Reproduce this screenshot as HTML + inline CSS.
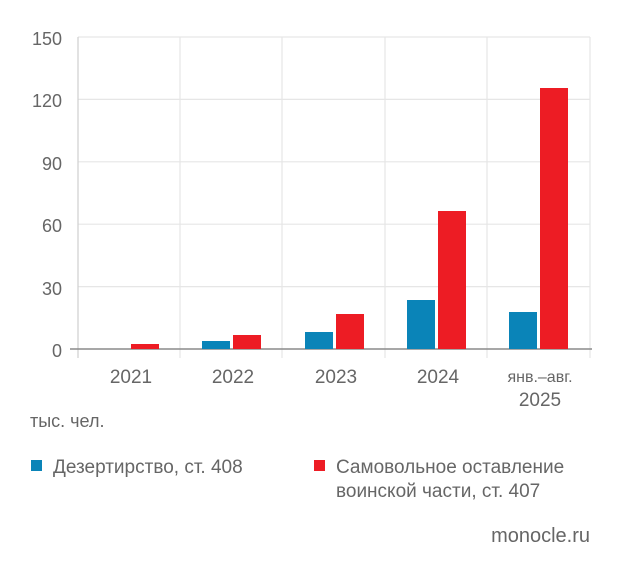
<!DOCTYPE html>
<html><head><meta charset="utf-8"><style>
html,body{margin:0;padding:0;background:#fff;}
svg{display:block;font-family:"Liberation Sans","DejaVu Sans",sans-serif;}
</style></head><body>
<svg width="620" height="571" viewBox="0 0 620 571" xmlns="http://www.w3.org/2000/svg">
<g stroke="#e6e6e6" stroke-width="1.2">
<line x1="78" y1="37" x2="590" y2="37"/>
<line x1="78" y1="99.4" x2="590" y2="99.4"/>
<line x1="78" y1="161.8" x2="590" y2="161.8"/>
<line x1="78" y1="224.2" x2="590" y2="224.2"/>
<line x1="78" y1="286.6" x2="590" y2="286.6"/>
<line x1="180" y1="37" x2="180" y2="358"/>
<line x1="282" y1="37" x2="282" y2="358"/>
<line x1="385" y1="37" x2="385" y2="358"/>
<line x1="487" y1="37" x2="487" y2="358"/>
<line x1="590" y1="37" x2="590" y2="358"/>
</g>
<line x1="78" y1="37" x2="78" y2="358" stroke="#cfcfcf" stroke-width="1.2"/>
<line x1="70" y1="349" x2="592" y2="349" stroke="#8a8a8a" stroke-width="1.5"/>
<g fill="#666" font-size="18" text-anchor="end">
<text x="62" y="45">150</text>
<text x="62" y="107">120</text>
<text x="62" y="170">90</text>
<text x="62" y="232">60</text>
<text x="62" y="295">30</text>
<text x="62" y="357">0</text>
</g>
<g fill="#ed1c24">
<rect x="131" y="344" width="28" height="5"/>
<rect x="233" y="335" width="28" height="14"/>
<rect x="336" y="314" width="28" height="35"/>
<rect x="438" y="211" width="28" height="138"/>
<rect x="540" y="88" width="28" height="261"/>
</g>
<g fill="#0a84b8">
<rect x="202" y="341" width="28" height="8"/>
<rect x="305" y="332" width="28" height="17"/>
<rect x="407" y="300" width="28" height="49"/>
<rect x="509" y="312" width="28" height="37"/>
</g>
<g fill="#666" font-size="19" text-anchor="middle">
<text x="131" y="383">2021</text>
<text x="233" y="383">2022</text>
<text x="336" y="383">2023</text>
<text x="438" y="383">2024</text>
<text x="540" y="382" font-size="16">янв.–авг.</text>
<text x="540" y="406">2025</text>
</g>
<text x="30" y="427" fill="#666" font-size="18">тыс. чел.</text>
<rect x="31" y="460" width="11" height="11" fill="#0a84b8"/>
<text x="53" y="473" fill="#666" font-size="19">Дезертирство, ст. 408</text>
<rect x="314" y="460" width="11" height="11" fill="#ed1c24"/>
<text x="336" y="473" fill="#666" font-size="19">Самовольное оставление</text>
<text x="336" y="497" fill="#666" font-size="19">воинской части, ст. 407</text>
<text x="590" y="542" fill="#666" font-size="20" text-anchor="end">monocle.ru</text>
</svg>
</body></html>
